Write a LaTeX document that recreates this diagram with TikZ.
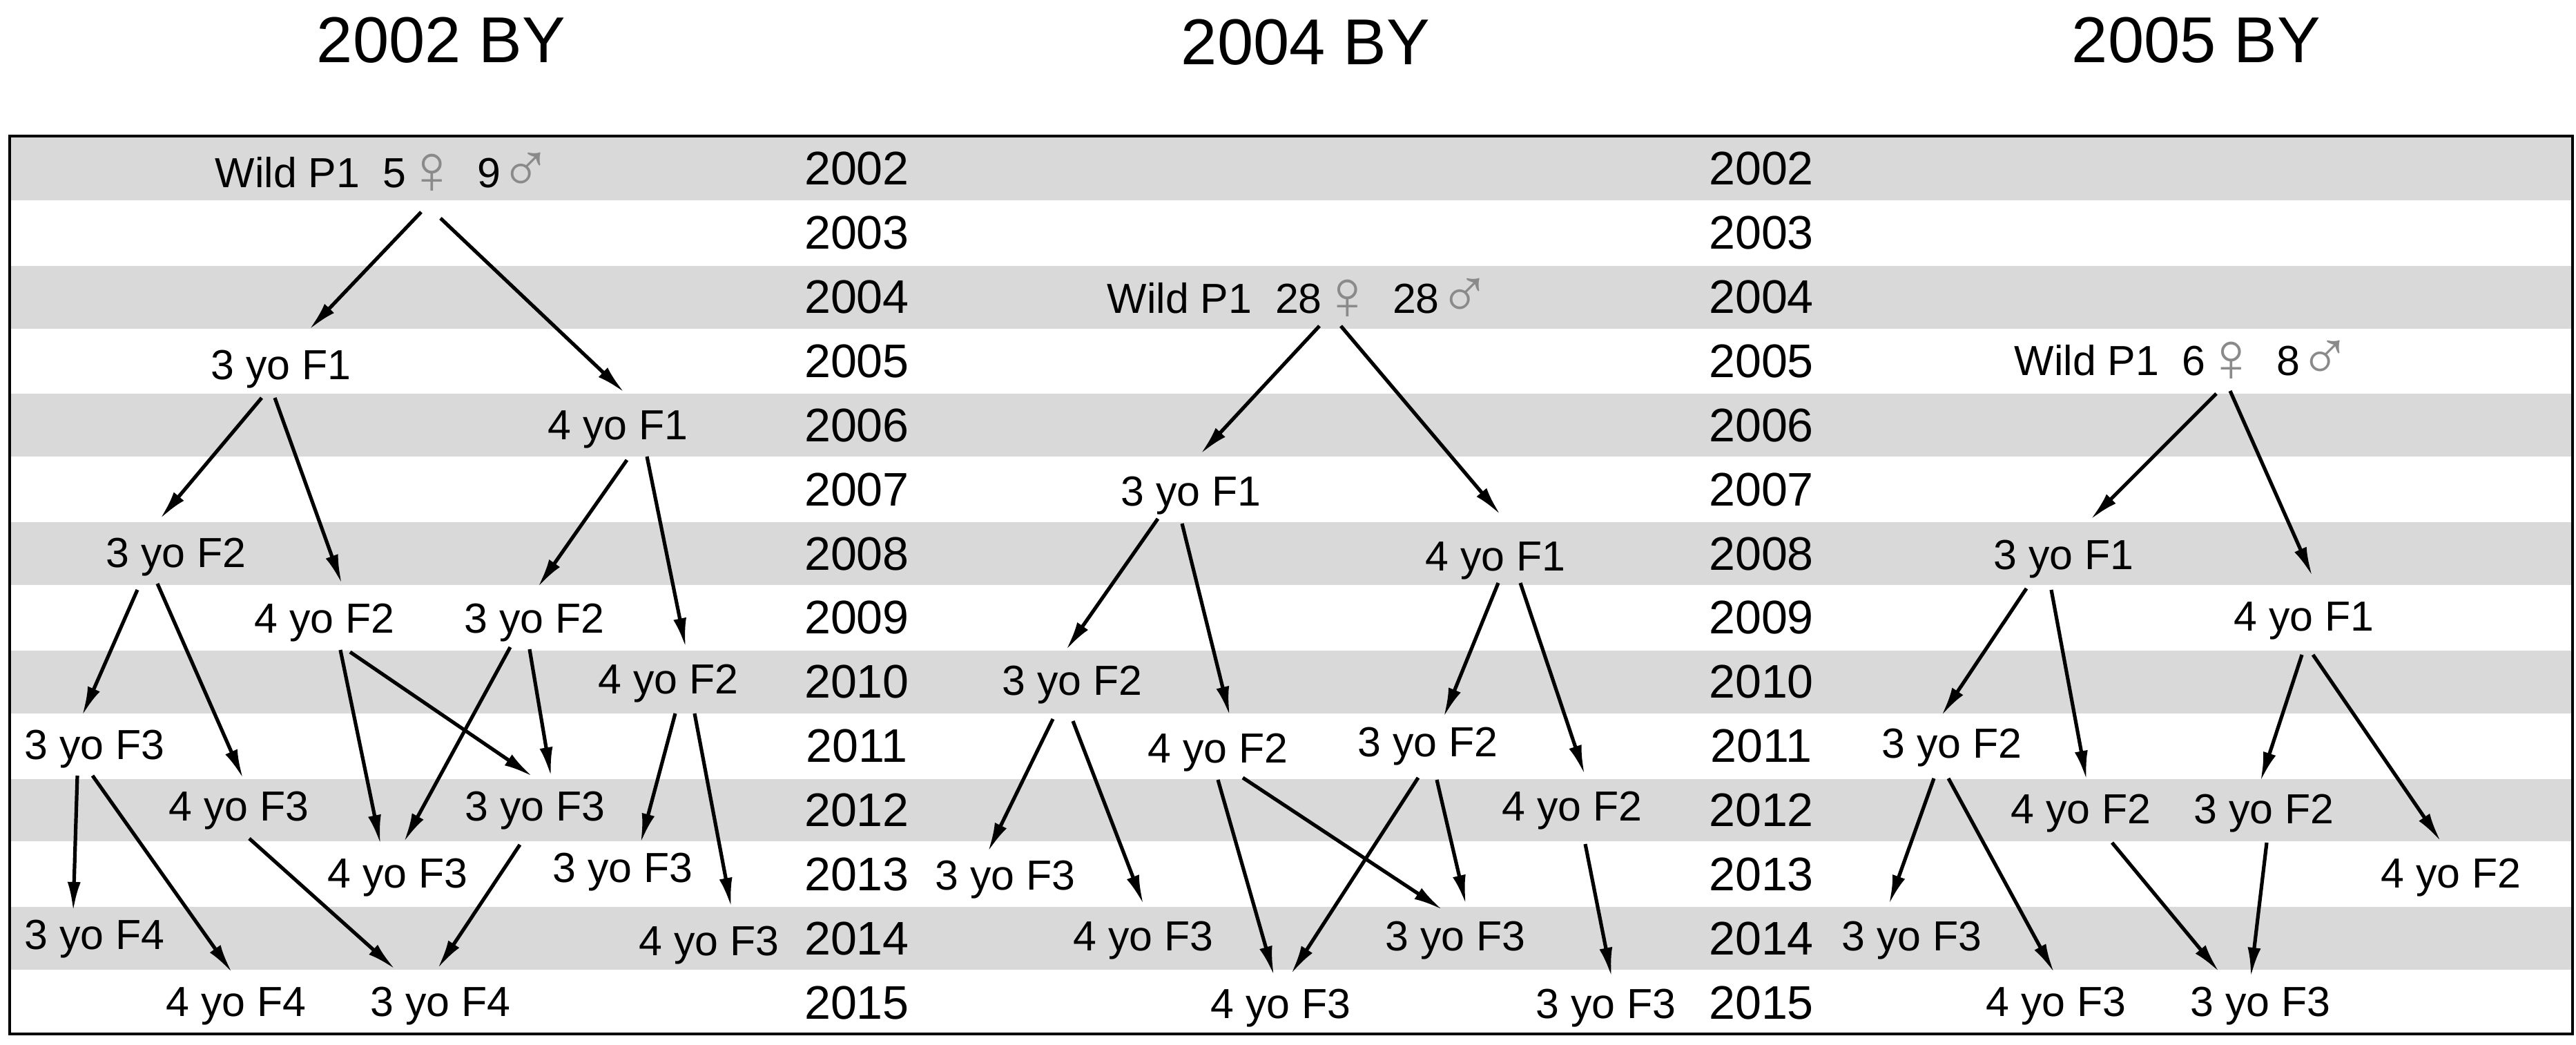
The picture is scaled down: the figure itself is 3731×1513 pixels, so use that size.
\documentclass[tikz,border=0pt]{standalone}
\usepackage{fontspec}
\setmainfont{Liberation Sans}
\usetikzlibrary{calc,arrows.meta}
\definecolor{bandgray}{HTML}{D9D9D9}
\definecolor{symgray}{HTML}{8A8A8A}
\newcommand\labfont{\fontsize{17.3pt}{20pt}\selectfont}
\newcommand\yrfont{\fontsize{19.4pt}{22pt}\selectfont}
\newcommand\ttlfont{\fontsize{26.7pt}{30pt}\selectfont}
\newcommand\fem{\hspace{-0.01cm}\raisebox{-0.14em}{\color{symgray}\fontsize{29pt}{30pt}\selectfont ♀}\hspace{-0.07cm}}
\newcommand\mal{\hspace{-0.01cm}\raisebox{-0.12em}{\color{symgray}\fontsize{29pt}{30pt}\selectfont ♂}}
\begin{document}
\begin{tikzpicture}[x=0.01cm,y=-0.01cm,
  lab/.style={font=\labfont, inner sep=0pt, text height=0.43cm, text depth=0pt},
  yr/.style={font=\yrfont, inner sep=0pt, text height=0.49cm, text depth=0pt},
  ttl/.style={font=\ttlfont, inner sep=0pt, text height=0.67cm, text depth=0pt},
  arr/.style={line width=0.052cm, -{Latex[length=0.42cm,width=0.19cm]}},
  band/.style={fill=bandgray}]
\useasboundingbox (0,0) rectangle (3731,1513);
% bands
\foreach \k in {0,2,...,12}
  \fill[band] (16,{199+92.857*\k}) rectangle (3724,{197+92.857*(\k+1)});
% frame
\draw[line width=0.045cm] (14,197) rectangle (3726,1497);
% titles
\node[ttl] (t1) at (639,57) {2002 BY};
\node[ttl] (t2) at (1891,60) {2004 BY};
\node[ttl] (t3) at (3181,57) {2005 BY};
% year columns
\foreach \k in {0,...,13}{
  \pgfmathtruncatemacro\yrv{2002+\k}
  \node[yr] (ya\k) at (1241,{243.4+92.857*\k}) {\yrv};
  \node[yr] (yb\k) at (2551,{243.4+92.857*\k}) {\yrv};
}
% ---------- tree 1: 2002 BY ----------
\node[lab] (a1) at (556,250) {Wild P1\ \ 5\fem\ \ 9\mal};
\node[lab] (a2) at (407,528) {3 yo F1};
\node[lab] (a3) at (895,615) {4 yo F1};
\node[lab] (a4) at (255,800) {3 yo F2};
\node[lab] (a5) at (470,895) {4 yo F2};
\node[lab] (a6) at (774,895) {3 yo F2};
\node[lab] (a7) at (968,983) {4 yo F2};
\node[lab] (a8) at (137,1078) {3 yo F3};
\node[lab] (a9) at (346,1167) {4 yo F3};
\node[lab] (a10) at (775,1167) {3 yo F3};
\node[lab] (a11) at (576,1264) {4 yo F3};
\node[lab] (a12) at (902,1256) {3 yo F3};
\node[lab] (a13) at (137,1353) {3 yo F4};
\node[lab] (a14) at (1027,1362) {4 yo F3};
\node[lab] (a15) at (342,1450) {4 yo F4};
\node[lab] (a16) at (638,1450) {3 yo F4};
\draw[arr] ($(a1)+(54,57)$) -- ($(a2)+(41,-51)$);
\draw[arr] ($(a1)+(82,66)$) -- ($(a3)+(9,-47)$);
\draw[arr] ($(a2)+(-28,48)$) -- ($(a4)+(-23,-49)$);
\draw[arr] ($(a2)+(-9,48)$) -- ($(a5)+(25,-50)$);
\draw[arr] ($(a3)+(13,51)$) -- ($(a6)+(5,-45)$);
\draw[arr] ($(a3)+(42,46)$) -- ($(a7)+(25,-46)$);
\draw[arr] ($(a4)+(-56,54)$) -- ($(a8)+(-18,-42)$);
\draw[arr] ($(a4)+(-27,45)$) -- ($(a9)+(6,-40)$);
\draw[arr] ($(a5)+(23,46)$) -- ($(a11)+(-25,-42)$);
\draw[arr] ($(a5)+(37,49)$) -- ($(a10)+(-4,-43)$);
\draw[arr] ($(a6)+(-35,42)$) -- ($(a11)+(9,-45)$);
\draw[arr] ($(a6)+(-7,45)$) -- ($(a10)+(23,-43)$);
\draw[arr] ($(a7)+(10,50)$) -- ($(a12)+(26,-36)$);
\draw[arr] ($(a7)+(38,50)$) -- ($(a14)+(32,-49)$);
\draw[arr] ($(a8)+(-25,45)$) -- ($(a13)+(-31,-34)$);
\draw[arr] ($(a8)+(-3,45)$) -- ($(a15)+(-6,-42)$);
\draw[arr] ($(a9)+(15,47)$) -- ($(a16)+(-66,-47)$);
\draw[arr] ($(a10)+(-22,56)$) -- ($(a16)+(-4,-48)$);
% ---------- tree 2: 2004 BY ----------
\node[lab] (b1) at (1882,432) {Wild P1\ \ 28\fem\ \ 28\mal};
\node[lab] (b2) at (1725,711) {3 yo F1};
\node[lab] (b3) at (2166,805) {4 yo F1};
\node[lab] (b4) at (1553,985) {3 yo F2};
\node[lab] (b5) at (1764,1083) {4 yo F2};
\node[lab] (b6) at (2068,1074) {3 yo F2};
\node[lab] (b7) at (2277,1167) {4 yo F2};
\node[lab] (b8) at (1456,1267) {3 yo F3};
\node[lab] (b9) at (1656,1355) {4 yo F3};
\node[lab] (b10) at (2108,1355) {3 yo F3};
\node[lab] (b11) at (1855,1453) {4 yo F3};
\node[lab] (b12) at (2326,1453) {3 yo F3};
\draw[arr] ($(b1)+(29,40)$) -- ($(b2)+(14,-54)$);
\draw[arr] ($(b1)+(60,40)$) -- ($(b3)+(7,-60)$);
\draw[arr] ($(b2)+(-48,40)$) -- ($(b4)+(-9,-44)$);
\draw[arr] ($(b2)+(-13,47)$) -- ($(b5)+(17,-47)$);
\draw[arr] ($(b3)+(4,39)$) -- ($(b6)+(23,-36)$);
\draw[arr] ($(b3)+(36,39)$) -- ($(b7)+(18,-46)$);
\draw[arr] ($(b4)+(-28,56)$) -- ($(b8)+(-25,-34)$);
\draw[arr] ($(b4)+(1,59)$) -- ($(b9)+(0,-46)$);
\draw[arr] ($(b5)+(0,46)$) -- ($(b11)+(-10,-41)$);
\draw[arr] ($(b5)+(36,43)$) -- ($(b10)+(-19,-38)$);
\draw[arr] ($(b6)+(-14,52)$) -- ($(b11)+(15,-43)$);
\draw[arr] ($(b6)+(13,55)$) -- ($(b10)+(15,-46)$);
\draw[arr] ($(b7)+(19,55)$) -- ($(b12)+(8,-39)$);
% ---------- tree 3: 2005 BY ----------
\node[lab] (c1) at (3162,522) {Wild P1\ \ 6\fem\ \ 8\mal};
\node[lab] (c2) at (2989,803) {3 yo F1};
\node[lab] (c3) at (3337,892) {4 yo F1};
\node[lab] (c4) at (2827,1076) {3 yo F2};
\node[lab] (c5) at (3014,1171) {4 yo F2};
\node[lab] (c6) at (3279,1171) {3 yo F2};
\node[lab] (c7) at (3550,1264) {4 yo F2};
\node[lab] (c8) at (2769,1355) {3 yo F3};
\node[lab] (c9) at (2978,1450) {4 yo F3};
\node[lab] (c10) at (3274,1450) {3 yo F3};
\draw[arr] ($(c1)+(48,48)$) -- ($(c2)+(39,-51)$);
\draw[arr] ($(c1)+(68,44)$) -- ($(c3)+(12,-58)$);
\draw[arr] ($(c2)+(-54,49)$) -- ($(c4)+(-15,-40)$);
\draw[arr] ($(c2)+(-18,51)$) -- ($(c5)+(8,-42)$);
\draw[arr] ($(c3)+(-3,56)$) -- ($(c6)+(-5,-40)$);
\draw[arr] ($(c3)+(13,56)$) -- ($(c7)+(-15,-46)$);
\draw[arr] ($(c4)+(-26,51)$) -- ($(c8)+(-33,-46)$);
\draw[arr] ($(c4)+(-5,51)$) -- ($(c9)+(-3,-42)$);
\draw[arr] ($(c5)+(45,49)$) -- ($(c10)+(-60,-43)$);
\draw[arr] ($(c6)+(4,49)$) -- ($(c10)+(-14,-36)$);
\end{tikzpicture}
\end{document}
